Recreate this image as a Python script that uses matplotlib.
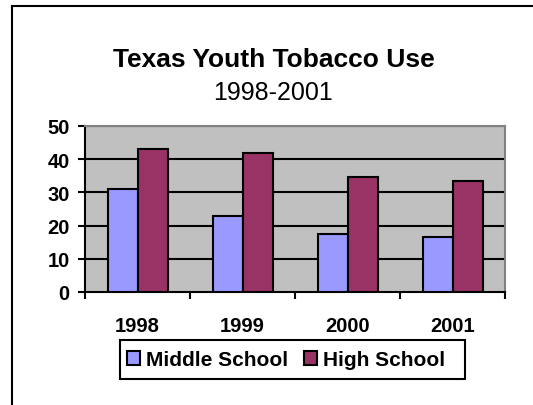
import matplotlib
matplotlib.use("Agg")
import matplotlib.pyplot as plt
import numpy as np
from matplotlib.patches import Patch, Rectangle
from matplotlib.lines import Line2D

years = ["1998", "1999", "2000", "2001"]
middle_school = [31, 23, 17.5, 16.5]
high_school = [43, 42, 34.5, 33.5]
series_names = ["Middle School", "High School"]
y_ticks = [0, 10, 20, 30, 40, 50]

W, H = 533, 406
plt.rcParams["font.family"] = ["Liberation Sans", "DejaVu Sans"]
fig = plt.figure(figsize=(W / 100, H / 100), dpi=100)
fig.patch.set_facecolor("white")


def fx(px):
    return px / W


def fy(py):
    return 1 - py / H


# outer chart frame (left and top edges)
fig.add_artist(Line2D([fx(12), fx(12)], [0, fy(7)], color="black", lw=1.5,
                      transform=fig.transFigure))
fig.add_artist(Line2D([fx(12), 1], [fy(7), fy(7)], color="black", lw=1.5,
                      transform=fig.transFigure))

left, right, top, bottom = 85, 505, 127, 293
ax = fig.add_axes([fx(left), fy(bottom), (right - left) / W, (bottom - top) / H])
ax.set_facecolor("#C0C0C0")

x = np.arange(len(years))
bw = 1 / 3.5
ax.bar(x - bw / 2, middle_school, bw, color="#9999FF", edgecolor="black", lw=1.5, zorder=3)
ax.bar(x + bw / 2, high_school, bw, color="#993366", edgecolor="black", lw=1.5, zorder=3)

ax.set_xlim(-0.5, len(years) - 0.5)
ax.set_ylim(0, 50)
ax.set_yticks(y_ticks)
ax.set_yticklabels([str(v) for v in y_ticks], fontsize=14.5, fontweight="bold")
for v in y_ticks[1:]:
    ax.axhline(v, color="black", lw=1.5, zorder=1)

ax.set_xticks(np.arange(-0.5, len(years), 1.0))
ax.set_xticklabels([])
ax.set_xticks(x, minor=True)
ax.set_xticklabels(years, minor=True, fontsize=14.5, fontweight="bold")
ax.tick_params(axis="x", which="minor", length=0, pad=17)
ax.tick_params(axis="x", which="major", length=5, width=1.5, direction="out")
ax.tick_params(axis="y", length=5, width=1.5, direction="out", pad=6)

ax.spines["left"].set_linewidth(1.5)
ax.spines["bottom"].set_linewidth(1.5)
for s in ("top", "right"):
    ax.spines[s].set_color("#808080")
    ax.spines[s].set_linewidth(1.5)

fig.text(fx(274), fy(67), "Texas Youth Tobacco Use", ha="center", va="baseline",
         fontsize=19, fontweight="bold")
fig.text(fx(273), fy(100), "1998-2001", ha="center", va="baseline", fontsize=18)

# legend entries with a box drawn around them
handles = [Patch(facecolor="#9999FF", edgecolor="black", lw=1.5),
           Patch(facecolor="#993366", edgecolor="black", lw=1.5)]
leg = fig.legend(handles, series_names, loc="center left",
                 bbox_to_anchor=(fx(127), fy(361)),
                 prop={"size": 15, "weight": "bold"}, ncol=2, frameon=False,
                 handlelength=0.62, handleheight=0.62, handletextpad=0.3,
                 columnspacing=0.75, borderpad=0, borderaxespad=0)
fig.add_artist(Rectangle((fx(120), fy(380)), fx(465) - fx(120), fy(341) - fy(380),
                         transform=fig.transFigure, facecolor="none",
                         edgecolor="black", lw=1.5))

fig.savefig("out.png", dpi=100)
